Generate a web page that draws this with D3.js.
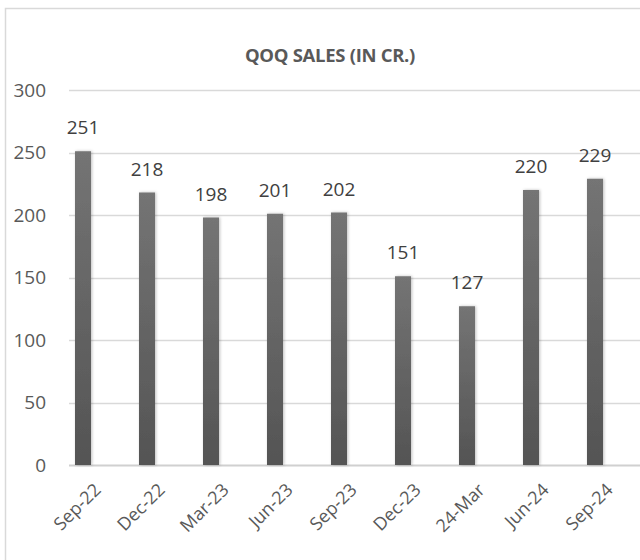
<!DOCTYPE html>
<html>
<head>
<meta charset="utf-8">
<script src="https://cdn.jsdelivr.net/npm/d3@7"></script>
<style>
  body { margin: 0; background: #fff; }
  svg { display: block; }
  .tick-label { font-family: "Open Sans", sans-serif; font-size: 19px; fill: #595959; }
  .x-label { font-family: "Open Sans", sans-serif; font-size: 18px; fill: #595959; }
  .value-label { font-family: "Open Sans", sans-serif; font-size: 19px; fill: #404040; }
  .title { font-family: "Open Sans", sans-serif; font-size: 18.5px; font-weight: bold; fill: #595959; letter-spacing: -0.3px; }
</style>
</head>
<body>
<div id="chart"></div>
<script>
// chart data
const quarters = ["Sep-22", "Dec-22", "Mar-23", "Jun-23", "Sep-23", "Dec-23", "24-Mar", "Jun-24", "Sep-24"];
const sales = [251, 218, 198, 201, 202, 151, 127, 220, 229];
const yTicks = [0, 50, 100, 150, 200, 250, 300];

function drawChart() {
    const width = 640, height = 560;

    const svg = d3.select("#chart").append("svg")
        .attr("width", width)
        .attr("height", height);

    // bar gradient, lighter at top
    const defs = svg.append("defs");
    const grad = defs.append("linearGradient")
        .attr("id", "barGrad")
        .attr("x1", 0).attr("y1", 0).attr("x2", 0).attr("y2", 1);
    grad.append("stop").attr("offset", "0%").attr("stop-color", "#747474");
    grad.append("stop").attr("offset", "100%").attr("stop-color", "#545454");

    const shadow = defs.append("filter").attr("id", "shadow")
        .attr("x", "-50%").attr("width", "200%");
    shadow.append("feDropShadow")
        .attr("dx", 1).attr("dy", 0).attr("stdDeviation", 1.5)
        .attr("flood-color", "#000").attr("flood-opacity", 0.25);

    // chart frame
    svg.append("rect")
        .attr("x", 5.5).attr("y", 8.5)
        .attr("width", 700).attr("height", 600)
        .attr("fill", "#fff")
        .attr("stroke", "#d9d9d9")
        .attr("stroke-width", 1.5);

    svg.append("text")
        .attr("class", "title")
        .attr("x", 330).attr("y", 62)
        .attr("text-anchor", "middle")
        .text("QOQ SALES (IN CR.)");

    const x = d3.scaleBand()
        .domain(quarters)
        .range([51, 627])
        .paddingInner(0.75)
        .paddingOuter(0.375);

    const y = d3.scaleLinear()
        .domain([0, 300])
        .range([465, 90]);

    // gridlines
    svg.append("g")
        .selectAll("line")
        .data(yTicks)
        .join("line")
        .attr("x1", 69).attr("x2", 640)
        .attr("y1", d => Math.round(y(d)) + 0.5)
        .attr("y2", d => Math.round(y(d)) + 0.5)
        .attr("stroke", d => d === 0 ? "#d0d0d0" : "#d9d9d9")
        .attr("stroke-width", d => d === 0 ? 2 : 1.3);

    // y tick labels
    svg.append("g")
        .selectAll("text")
        .data(yTicks)
        .join("text")
        .attr("class", "tick-label")
        .attr("x", 46)
        .attr("y", d => y(d))
        .attr("dy", "0.35em")
        .attr("text-anchor", "end")
        .text(d => d);

    // bars
    svg.append("g")
        .selectAll("rect")
        .data(sales)
        .join("rect")
        .attr("x", (d, i) => x(quarters[i]))
        .attr("y", d => y(d))
        .attr("width", x.bandwidth())
        .attr("height", d => y(0) - y(d))
        .attr("fill", "url(#barGrad)")
        .attr("filter", "url(#shadow)");

    // value labels
    svg.append("g")
        .selectAll("text")
        .data(sales)
        .join("text")
        .attr("class", "value-label")
        .attr("x", (d, i) => x(quarters[i]) + x.bandwidth() / 2)
        .attr("y", d => y(d) - 17)
        .attr("text-anchor", "middle")
        .text(d => d);

    // x labels, rotated
    svg.append("g")
        .selectAll("text")
        .data(quarters)
        .join("text")
        .attr("class", "x-label")
        .attr("text-anchor", "end")
        .attr("transform", d => `translate(${x(d) + x.bandwidth() / 2 + 10},${482}) rotate(-45)`)
        .attr("dy", "0.7em")
        .text(d => d);
}

drawChart();
</script>
</body>
</html>
